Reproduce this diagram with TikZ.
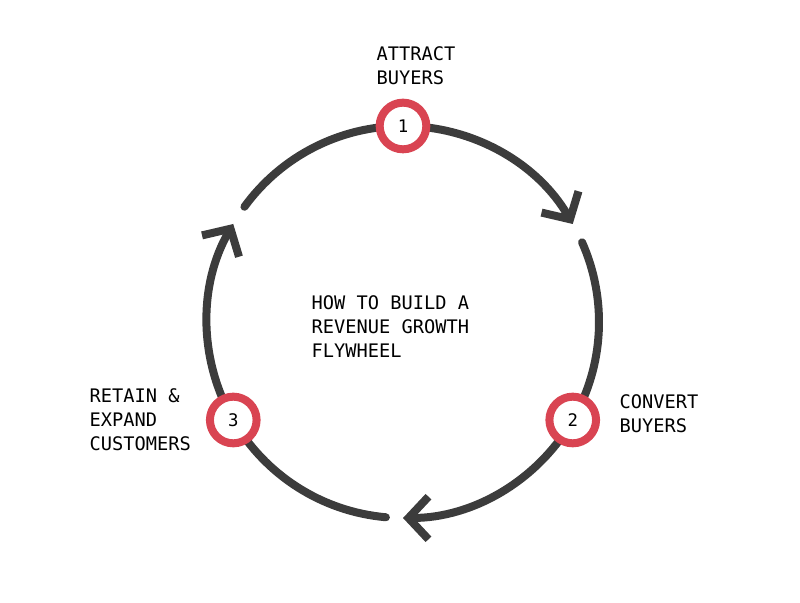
\documentclass[tikz,border=0pt]{standalone}
\usepackage{fontspec}
\setmonofont{DejaVu Sans Mono}
\usetikzlibrary{arrows.meta,calc}
\definecolor{ringred}{HTML}{D94452}
\definecolor{wheelgray}{HTML}{3C3C3C}
\begin{document}
\begin{tikzpicture}[x=0.75pt,y=0.75pt,line join=round,line cap=round,
    wheel/.style={wheelgray, line width=6pt},
    spin/.style={wheel, -{Straight Barb[length=15pt,width=32pt,line width=6pt]}},
    stage/.style={circle, draw=ringred, line width=6pt, fill=white,
      minimum size=35pt, inner sep=0pt, font=\ttfamily\fontsize{13}{13}\selectfont},
    caption/.style={align=left, font=\ttfamily\fontsize{14}{18}\selectfont, text=black}]

  \useasboundingbox (0,0) rectangle (800,603);

  % hub and radius of the wheel
  \coordinate (hub) at (403,281);
  \def\R{147pt}

  % the wheel, in six arcs
  \draw[spin] (hub) ++(90:\R) arc[start angle=90, end angle=30, radius=\R];
  \draw[wheel] (hub) ++(24:\R) arc[start angle=24, end angle=-30, radius=\R];
  \draw[spin] (hub) ++(-30:\R) arc[start angle=-30, end angle=-90, radius=\R];
  \draw[wheel] (hub) ++(-95:\R) arc[start angle=-95, end angle=-150, radius=\R];
  \draw[spin] (hub) ++(210:\R) arc[start angle=210, end angle=150, radius=\R];
  \draw[wheel] (hub) ++(144:\R) arc[start angle=144, end angle=90, radius=\R];

  % stages
  \node[stage] (attract) at ($(hub)+(90:\R)$) {1};
  \node[stage] (convert) at ($(hub)+(-30:\R)$) {2};
  \node[stage] (retain)  at ($(hub)+(210:\R)$) {3};

  % texts
  \node[caption, anchor=north west] (attracttxt) at (372,561) {ATTRACT\\BUYERS};
  \node[caption, anchor=north west] (converttxt) at (615,213) {CONVERT\\BUYERS};
  \node[caption, anchor=north west] (retaintxt)  at (85,219) {RETAIN \&\\EXPAND\\CUSTOMERS};
  \node[caption, anchor=north west] (title) at (307,312) {HOW TO BUILD A\\REVENUE GROWTH\\FLYWHEEL};
\end{tikzpicture}
\end{document}
